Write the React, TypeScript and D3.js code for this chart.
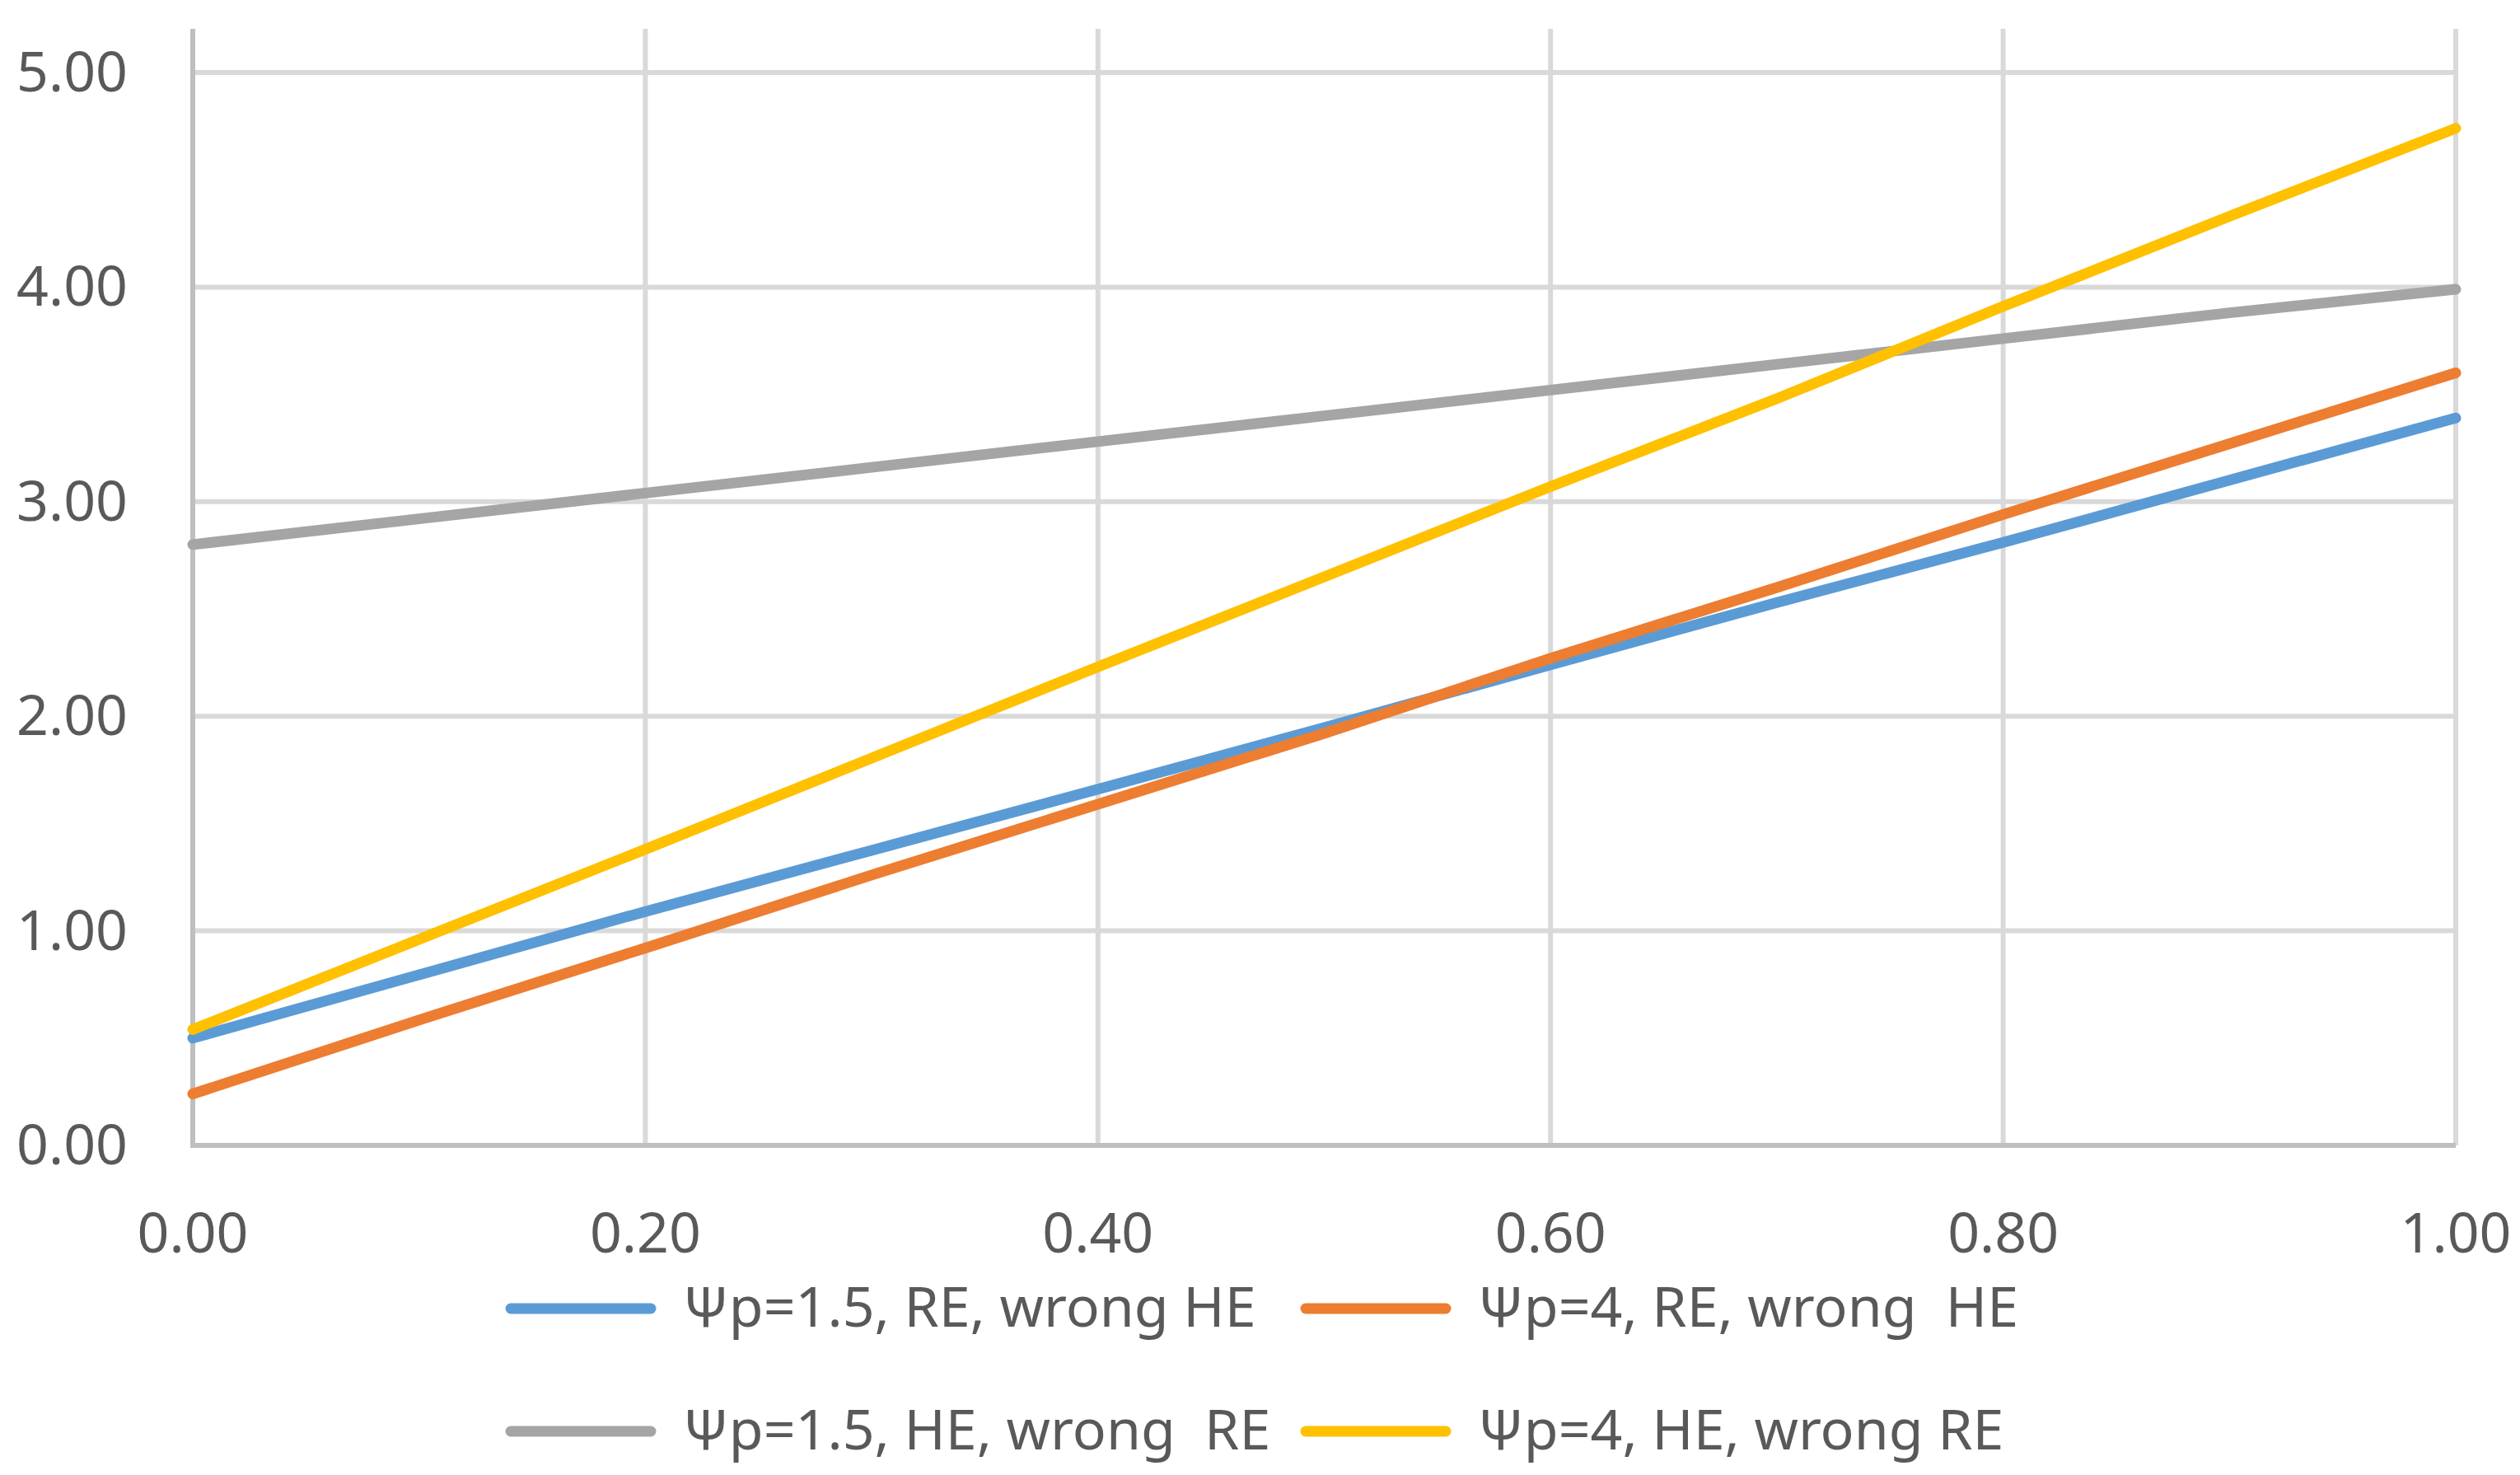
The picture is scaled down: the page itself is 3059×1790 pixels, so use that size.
import React from "react";
import * as d3 from "d3";

const xValues = [0, 0.1, 0.2, 0.3, 0.4, 0.5, 0.6, 0.7, 0.8, 0.9, 1.0];
const blueValues = [0.5, 0.795, 1.09, 1.375, 1.66, 1.947, 2.24, 2.53, 2.81, 3.1, 3.39];
const orangeValues = [0.24, 0.584, 0.92, 1.26, 1.59, 1.92, 2.27, 2.6, 2.94, 3.27, 3.6];
const grayValues = [2.8, 2.92, 3.04, 3.16, 3.28, 3.4, 3.52, 3.64, 3.76, 3.88, 3.99];
const yellowValues = [0.54, 0.96, 1.38, 1.805, 2.23, 2.65, 3.07, 3.48, 3.91, 4.33, 4.74];

const seriesNames = [
  "Ψp=1.5, RE, wrong HE",
  "Ψp=4, RE, wrong  HE",
  "Ψp=1.5, HE, wrong  RE",
  "Ψp=4, HE, wrong RE",
];
const seriesColors = ["#5B9BD5", "#ED7D31", "#A5A5A5", "#FFC000"];
const seriesValues = [blueValues, orangeValues, grayValues, yellowValues];

const xTicks = [0, 0.2, 0.4, 0.6, 0.8, 1.0];
const yTicks = [0, 1, 2, 3, 4, 5];

const W = 3059;
const H = 1790;
const LEFT = 234;
const RIGHT = 2981;
const TOP = 35;
const BOTTOM = 1390;
const Y5 = 88;

export default function App() {
  const x = d3.scaleLinear().domain([0, 1]).range([LEFT, RIGHT]);
  const y = d3.scaleLinear().domain([0, 5]).range([BOTTOM, Y5]);
  const line = d3
    .line<number>()
    .x((_, i) => x(xValues[i]))
    .y((d) => y(d));

  const font = "'Noto Sans', sans-serif";
  const textColor = "#595959";

  const legendItems = seriesNames.map((name, i) => ({
    name,
    color: seriesColors[i],
    col: i % 2,
    row: Math.floor(i / 2),
  }));
  const legendColX = [620, 1585];
  const legendRowY = [1588, 1737];

  return (
    <svg
      width={W}
      height={H}
      style={{ position: "absolute", left: 0, top: 0, display: "block", background: "#fff" }}
    >
      <rect x={0} y={0} width={W} height={H} fill="#fff" />
      {/* horizontal gridlines */}
      {yTicks
        .filter((t) => t > 0)
        .map((t) => (
          <line key={"hg" + t} x1={LEFT} x2={RIGHT} y1={y(t)} y2={y(t)} stroke="#D9D9D9" strokeWidth={6} />
        ))}
      {/* vertical gridlines */}
      {xTicks
        .filter((t) => t > 0)
        .map((t) => (
          <line key={"vg" + t} x1={x(t)} x2={x(t)} y1={TOP} y2={BOTTOM} stroke="#D9D9D9" strokeWidth={6} />
        ))}
      {/* axes */}
      <line x1={LEFT} x2={LEFT} y1={TOP} y2={BOTTOM + 3} stroke="#BFBFBF" strokeWidth={6} />
      <line x1={LEFT - 3} x2={RIGHT} y1={BOTTOM} y2={BOTTOM} stroke="#BFBFBF" strokeWidth={6} />
      {/* y tick labels */}
      {yTicks.map((t) => (
        <text
          key={"yl" + t}
          x={155}
          y={y(t) + 23}
          textAnchor="end"
          fontFamily={font}
          fontSize={68}
          fill={textColor}
        >
          {t.toFixed(2)}
        </text>
      ))}
      {/* x tick labels */}
      {xTicks.map((t) => (
        <text
          key={"xl" + t}
          x={x(t)}
          y={1520}
          textAnchor="middle"
          fontFamily={font}
          fontSize={68}
          fill={textColor}
        >
          {t.toFixed(2)}
        </text>
      ))}
      {/* series */}
      {seriesValues.map((vals, i) => (
        <path
          key={"s" + i}
          d={line(vals) || ""}
          fill="none"
          stroke={seriesColors[i]}
          strokeWidth={13}
          strokeLinecap="round"
          strokeLinejoin="round"
        />
      ))}
      {/* legend */}
      {legendItems.map((it, i) => {
        const lx = legendColX[it.col];
        const ly = legendRowY[it.row];
        return (
          <g key={"lg" + i}>
            <line x1={lx} x2={lx + 170} y1={ly} y2={ly} stroke={it.color} strokeWidth={13} strokeLinecap="round" />
            <text
              x={lx + 209}
              y={ly + 22}
              fontFamily={font}
              fontSize={68}
              fill={textColor}
              style={{ whiteSpace: "pre" }}
            >
              {it.name}
            </text>
          </g>
        );
      })}
    </svg>
  );
}
